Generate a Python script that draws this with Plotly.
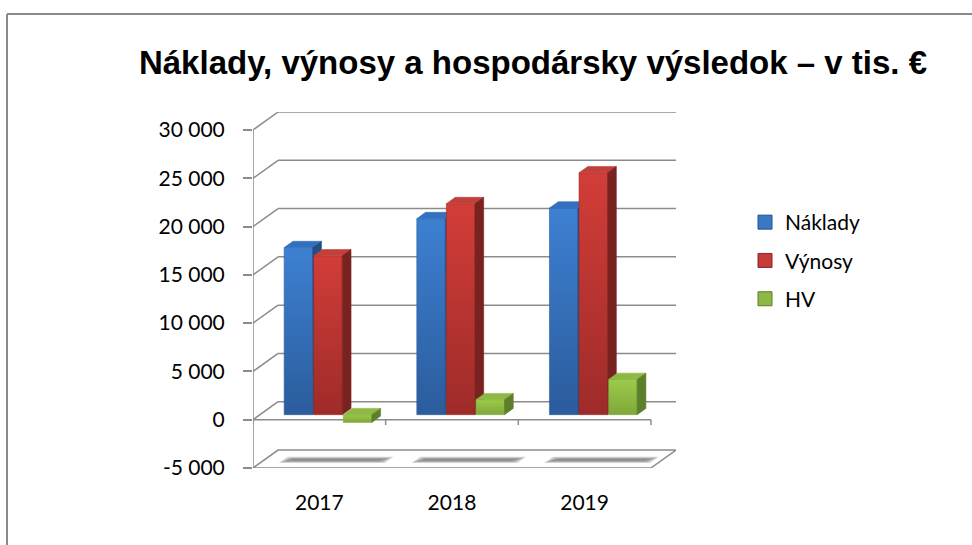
import plotly.graph_objects as go

# ---------------- data ----------------
categories = ["2017", "2018", "2019"]
series_names = ["Náklady", "Výnosy", "HV"]
naklady = [17300, 20300, 21400]
vynosy = [16450, 21850, 25050]
hv = [-800, 1550, 3650]
y_tickvals = [-5000, 0, 5000, 10000, 15000, 20000, 25000, 30000]
y_ticktext = ["-5 000", "0", "5 000", "10 000", "15 000", "20 000", "25 000", "30 000"]

series_values = [naklady, vynosy, hv]

# ---------------- style / geometry ----------------
front_cols = [("#2b5c9c", "#3d80d2"), ("#9e2b29", "#d23d38"), ("#7fa83a", "#9ccb4a")]
top_cols = ["#3470bd", "#c2403b", "#8fb944"]
side_cols = ["#224d85", "#7a2220", "#5e7f2a"]
legend_cols = ["#3a78c6", "#c43b37", "#8db845"]
legend_line = ["#24508a", "#862826", "#5c7c28"]
grid_col = "#8c8c8c"
FONT = "Lato"

DX = 0.189      # wall depth in category units
DY = 1862       # wall depth in value units
F = 0.28        # depth position of bar fronts
BD = 0.35       # bar depth fraction
GAP = 0.182     # left gap in category
BW = 0.215      # bar width
STEP = 0.223

fig = go.Figure()

def poly(xs, ys, color, grad=None, opacity=1.0, lw=0.6):
    kw = {}
    if grad is not None:
        kw["fillgradient"] = dict(type="vertical", colorscale=[[0, grad[0]], [1, grad[1]]])
    else:
        kw["fillcolor"] = color
    fig.add_trace(go.Scatter(
        x=list(xs) + [xs[0]], y=list(ys) + [ys[0]], mode="lines", fill="toself",
        line=dict(width=lw, color=color if grad is None else grad[0]),
        hoverinfo="skip", showlegend=False, opacity=opacity, **kw))

bdx, bdy = BD * DX, BD * DY
base = F * DY

# floor shadows (soft, layered)
for i in range(len(categories)):
    xa = i - 0.5 + GAP + F * DX - 0.04
    xb = i - 0.5 + GAP + F * DX + 2 * STEP + BW + bdx + 0.03
    y0 = -5000 + F * DY
    y1 = y0 + bdy
    for inset, col in [(0.0, "rgba(175,175,175,0.55)"), (0.02, "rgba(145,145,145,0.6)"),
                       (0.045, "rgba(120,120,120,0.6)")]:
        dy_in = inset * 5000
        poly([xa + inset, xb - inset, xb + bdx - inset, xa + bdx + inset],
             [y0 + dy_in, y0 + dy_in, y1 - dy_in, y1 - dy_in], col, lw=0)

# bars (front, top, side) drawn in depth order
for i in range(len(categories)):
    for k, vals in enumerate(series_values):
        v = vals[i]
        x0 = i - 0.5 + GAP + F * DX + k * STEP
        x1 = x0 + BW
        lo, hi = min(base, base + v), max(base, base + v)
        poly([x0, x1, x1, x0], [lo, lo, hi, hi], None, grad=front_cols[k])
        poly([x0, x1, x1 + bdx, x0 + bdx], [hi, hi, hi + bdy, hi + bdy], top_cols[k])
        poly([x1, x1 + bdx, x1 + bdx, x1], [lo, lo + bdy, hi + bdy, hi], side_cols[k])

# legend entries
for k, name in enumerate(series_names):
    fig.add_trace(go.Scatter(
        x=[None], y=[None], mode="markers", name=name, legendgroup=name,
        marker=dict(symbol="square", size=14, color=legend_cols[k],
                    line=dict(color=legend_line[k], width=1))))

# walls, gridlines, axes
shapes = []
xl, xr = -0.5, len(categories) - 0.5
for v in y_tickvals[1:]:
    shapes.append(dict(type="line", x0=xl, y0=v, x1=xl + DX, y1=v + DY,
                       line=dict(color=grid_col, width=1.5)))
    shapes.append(dict(type="line", x0=xl + DX, y0=v + DY, x1=xr + DX, y1=v + DY,
                       line=dict(color=grid_col, width=1.5)))
fl = y_tickvals[0]
shapes.append(dict(type="path",
                   path=f"M {xl},{fl} L {xr},{fl} L {xr + DX},{fl + DY} L {xl + DX},{fl + DY} Z",
                   line=dict(color=grid_col, width=1.5)))
shapes.append(dict(type="line", x0=xl, y0=fl, x1=xl, y1=y_tickvals[-1],
                   line=dict(color=grid_col, width=1.5)))
shapes.append(dict(type="line", x0=xl, y0=0, x1=xr, y1=0,
                   line=dict(color=grid_col, width=1.5)))
for j in range(len(categories) + 1):
    shapes.append(dict(type="line", x0=xl + j, y0=0, x1=xl + j, y1=-550,
                       line=dict(color=grid_col, width=1.5)))
for s in shapes:
    s.update(xref="x", yref="y", layer="below")

# outer chart border (paper coordinates)
L, R, T, B = 253, 676, 112, 468
def px(p): return (p - L) / (R - L)
def py(p): return (B - p) / (B - T)
shapes.append(dict(type="line", xref="paper", yref="paper", x0=px(7), y0=py(14), x1=px(990), y1=py(14),
                   line=dict(color="#8a8a8a", width=2)))
shapes.append(dict(type="line", xref="paper", yref="paper", x0=px(7), y0=py(14), x1=px(7), y1=py(560),
                   line=dict(color="#8a8a8a", width=2)))

fig.update_layout(
    width=972, height=545,
    margin=dict(l=L, r=972 - R, t=T, b=545 - B),
    paper_bgcolor="white", plot_bgcolor="white",
    shapes=shapes,
    title=dict(text="Náklady, výnosy a hospodársky výsledok – v tis. €",
               x=533 / 972, xanchor="center", y=1 - 62 / 545, yanchor="middle",
               font=dict(family="Liberation Sans", size=33, color="black", weight="bold")),
    xaxis=dict(range=[xl, xr + DX], tickvals=list(range(len(categories))), ticktext=categories,
               showgrid=False, zeroline=False, showline=False, ticks="",
               ticklabelstandoff=20, tickfont=dict(family=FONT, size=21, color="black"),
               fixedrange=True),
    yaxis=dict(range=[fl, y_tickvals[-1] + DY], tickvals=y_tickvals, ticktext=y_ticktext,
               showgrid=False, zeroline=False, showline=False, ticks="outside",
               ticklen=9, tickwidth=1.5, tickcolor=grid_col, ticklabelstandoff=14,
               tickfont=dict(family=FONT, size=21, color="black"), fixedrange=True),
    legend=dict(x=px(745), y=py(202), xanchor="left", yanchor="top",
                font=dict(family=FONT, size=21, color="black"), tracegroupgap=8,
                bgcolor="rgba(0,0,0,0)"),
    showlegend=True,
)

fig.write_html("out.html", config={"displayModeBar": False},
               post_script="document.body.style.margin='0';")
